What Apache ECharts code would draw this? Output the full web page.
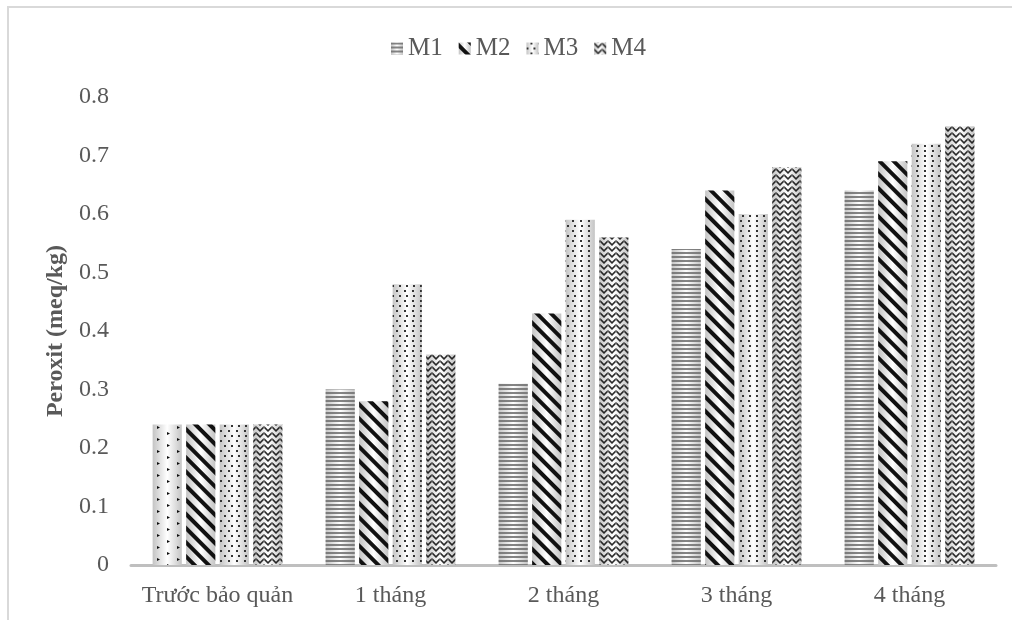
<!DOCTYPE html>
<html>
<head>
<meta charset="utf-8">
<script src="https://cdn.jsdelivr.net/npm/echarts@6/dist/echarts.min.js"></script>
<style>html,body{margin:0;padding:0;background:#fff}#c{width:1012px;height:620px}</style>
</head>
<body>
<div id="c"></div>
<script>
const categories = ['Trước bảo quản', '1 tháng', '2 tháng', '3 tháng', '4 tháng'];
const seriesNames = ['M1', 'M2', 'M3', 'M4'];
const m1 = [0.24, 0.30, 0.31, 0.54, 0.64];
const m2 = [0.24, 0.28, 0.43, 0.64, 0.69];
const m3 = [0.24, 0.48, 0.59, 0.60, 0.72];
const m4 = [0.24, 0.36, 0.56, 0.68, 0.75];
const yTicks = [0, 0.1, 0.2, 0.3, 0.4, 0.5, 0.6, 0.7, 0.8];

const FONT = '"Liberation Serif", "DejaVu Serif", serif';
const grad = {
  type: 'linear', x: 0, y: 0, x2: 1, y2: 0,
  colorStops: [
    {offset: 0, color: '#c4c4c4'},
    {offset: 0.5, color: '#ffffff'},
    {offset: 1, color: '#c4c4c4'}
  ]
};
const decals = [
  {symbol: 'rect', color: 'rgba(110,110,110,0.85)', dashArrayX: [1, 0], dashArrayY: [2, 1.2], symbolSize: 1},
  {symbol: 'rect', color: '#111', dashArrayX: [1, 0], dashArrayY: [3.5, 5.5], rotation: Math.PI / 4, symbolSize: 1},
  {symbol: 'rect', color: '#333', dashArrayX: [[2, 5], [0, 3.5, 2, 1.5]], dashArrayY: [2, 3], symbolSize: 1},
  {symbol: 'path://M0,0L5,5L10,0L10,3L5,8L0,3Z', color: 'rgba(20,20,20,0.9)', dashArrayX: [8, 0], dashArrayY: [6, 0], symbolSize: 1}
];
const firstM1Decal = {symbol: 'triangle', color: '#111', dashArrayX: [[3, 9], [0, 6, 3, 3]], dashArrayY: [3, 7], rotation: Math.PI / 2, symbolSize: 1};

const values = [m1, m2, m3, m4];
const series = seriesNames.map((name, i) => ({
  name: name,
  type: 'bar',
  barGap: '15%',
  barCategoryGap: '25%',
  itemStyle: {color: grad, decal: decals[i]},
  data: values[i].map((v, j) => (i === 0 && j === 0)
    ? {value: v, itemStyle: {color: grad, decal: firstM1Decal}}
    : v)
}));

const chart = echarts.init(document.getElementById('c'), null, {renderer: 'canvas'});
chart.setOption({
  animation: false,
  backgroundColor: '#ffffff',
  aria: {enabled: false},
  legend: {
    data: seriesNames,
    top: 31,
    left: 386,
    itemWidth: 12,
    itemHeight: 12,
    itemGap: 16,
    textStyle: {fontFamily: FONT, fontSize: 25, color: '#595959'},
    icon: 'rect'
  },
  grid: {left: 131, right: 16, top: 97, bottom: 55, containLabel: false},
  xAxis: {
    type: 'category',
    data: categories,
    axisLine: {lineStyle: {color: '#bfbfbf', width: 3}},
    axisTick: {show: false},
    axisLabel: {interval: 0, fontFamily: FONT, fontSize: 24, color: '#595959', margin: 19}
  },
  yAxis: {
    type: 'value',
    min: yTicks[0],
    max: yTicks[yTicks.length - 1],
    interval: 0.1,
    name: 'Peroxit (meq/kg)',
    nameLocation: 'middle',
    nameGap: 61,
    nameTextStyle: {fontFamily: FONT, fontSize: 24, fontWeight: 'bold', color: '#595959'},
    axisLine: {show: false},
    axisTick: {show: false},
    splitLine: {show: false},
    axisLabel: {fontFamily: FONT, fontSize: 24, color: '#595959', margin: 22,
      formatter: v => String(Math.round(v * 10) / 10)}
  },
  graphic: [
    {type: 'line', shape: {x1: 7, y1: 7, x2: 1012, y2: 7}, style: {stroke: '#d9d9d9', lineWidth: 2}},
    {type: 'line', shape: {x1: 8, y1: 7, x2: 8, y2: 620}, style: {stroke: '#d9d9d9', lineWidth: 2}}
  ],
  series: series
});
</script>
</body>
</html>
